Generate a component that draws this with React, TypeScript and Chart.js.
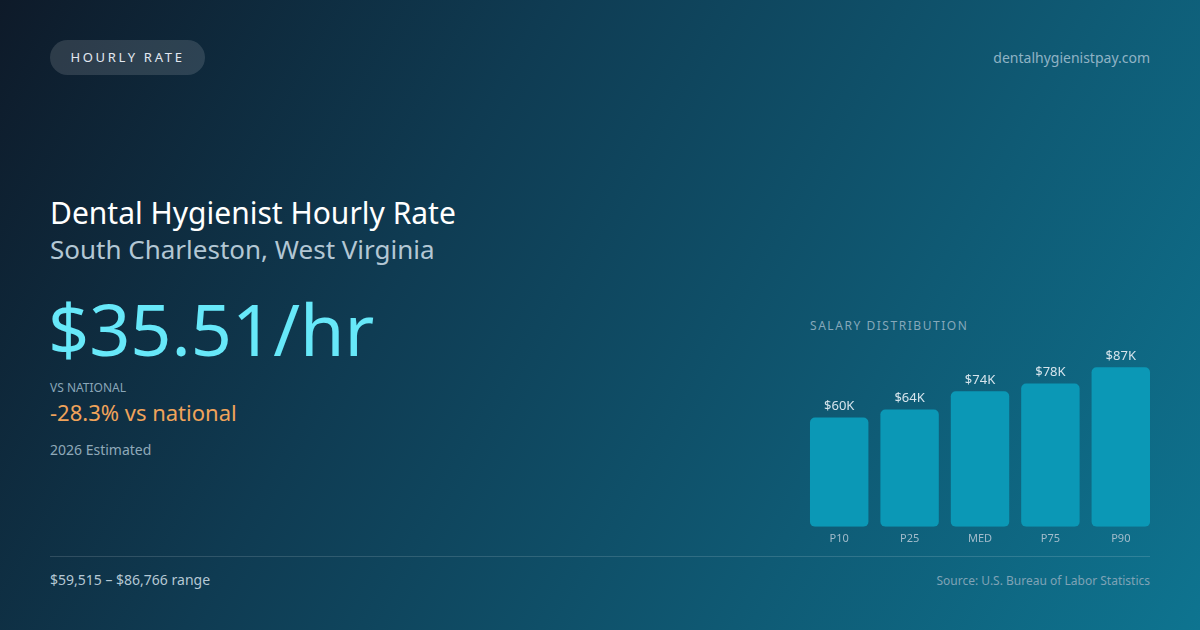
import { useEffect, useRef } from 'react';
import { Chart, registerables } from 'chart.js';

Chart.register(...registerables);

// percentile labels and annual wages (USD)
const percentiles = ['P10', 'P25', 'MED', 'P75', 'P90'];
const wages = [59515, 63800, 73700, 78000, 86766];

const FONT = '"Noto Sans", "Open Sans", sans-serif';

const valueLabels = {
    id: 'valueLabels',
    afterDatasetsDraw(chart: Chart) {
        const { ctx } = chart;
        const meta = chart.getDatasetMeta(0);
        ctx.save();
        ctx.font = `13px ${FONT}`;
        ctx.fillStyle = '#d6e4ec';
        ctx.textAlign = 'center';
        ctx.textBaseline = 'bottom';
        meta.data.forEach((bar: any, i: number) => {
            const v = wages[i];
            ctx.fillText('$' + Math.round(v / 1000) + 'K', bar.x, bar.y - 5);
        });
        ctx.restore();
    },
};

export default function App() {
    const canvasRef = useRef<HTMLCanvasElement | null>(null);
    const chartInstance = useRef<Chart | null>(null);

    useEffect(() => {
        if (canvasRef.current) {
            if (chartInstance.current) {
                chartInstance.current.destroy();
            }

            chartInstance.current = new Chart(canvasRef.current, {
                type: 'bar',
                data: {
                    labels: percentiles,
                    datasets: [
                        {
                            data: wages,
                            backgroundColor: '#0b98b6',
                            borderRadius: 5,
                            borderSkipped: false,
                            barPercentage: 0.83,
                            categoryPercentage: 1,
                        },
                    ],
                },
                options: {
                    responsive: false,
                    animation: false,
                    layout: { padding: { top: 3, left: 0, right: 0, bottom: 0 } },
                    plugins: {
                        legend: { display: false },
                        tooltip: { enabled: false },
                    },
                    scales: {
                        x: {
                            grid: { display: false, drawTicks: false },
                            border: { display: false },
                            ticks: {
                                color: '#a3bccb',
                                font: { family: FONT, size: 11 },
                                padding: 5,
                            },
                        },
                        y: {
                            display: false,
                            min: 0,
                            max: 100000,
                        },
                    },
                },
                plugins: [valueLabels],
            });
        }

        return () => {
            if (chartInstance.current) {
                chartInstance.current.destroy();
            }
        };
    }, []);

    return (
        <div
            style={{
                position: 'fixed',
                left: 0,
                top: 0,
                width: 1200,
                height: 630,
                overflow: 'hidden',
                fontFamily: FONT,
                background: 'linear-gradient(120deg, #0e1a29 0%, #0f3b52 35%, #0f5a74 70%, #0e7490 100%)',
            }}
        >
            <div
                style={{
                    position: 'absolute',
                    left: 50,
                    top: 40,
                    width: 155,
                    height: 35,
                    borderRadius: 18,
                    background: 'rgba(255,255,255,0.13)',
                    color: '#e2e8f0',
                    fontSize: 13,
                    letterSpacing: 2.7,
                    lineHeight: '35px',
                    textAlign: 'center',
                }}
            >
                HOURLY RATE
            </div>
            <div style={{ position: 'absolute', right: 50, top: 48, fontSize: 14, color: '#8fb3c5' }}>
                dentalhygienistpay.com
            </div>

            <div style={{ position: 'absolute', left: 50, top: 192, fontSize: 30, color: '#ffffff', whiteSpace: 'nowrap' }}>
                Dental Hygienist Hourly Rate
            </div>
            <div style={{ position: 'absolute', left: 50, top: 231, fontSize: 26, color: '#b3c7d4', whiteSpace: 'nowrap' }}>
                South Charleston, West Virginia
            </div>
            <div style={{ position: 'absolute', left: 48, top: 283, fontSize: 72, color: '#67e8f9', whiteSpace: 'nowrap', lineHeight: '90px' }}>
                $35.51/hr
            </div>
            <div style={{ position: 'absolute', left: 50, top: 379, fontSize: 12, color: '#8aa6b8' }}>
                VS NATIONAL
            </div>
            <div style={{ position: 'absolute', left: 50, top: 397, fontSize: 22, color: '#f0a35a', whiteSpace: 'nowrap' }}>
                -28.3% vs national
            </div>
            <div style={{ position: 'absolute', left: 50, top: 440, fontSize: 14, color: '#8fa9b9' }}>
                2026 Estimated
            </div>

            <div style={{ position: 'absolute', left: 810, top: 317, fontSize: 12, letterSpacing: 1.55, color: '#86a8ba' }}>
                SALARY DISTRIBUTION
            </div>
            <div style={{ position: 'absolute', left: 804, top: 340, width: 352, height: 210 }}>
                <canvas ref={canvasRef} width={352} height={210}></canvas>
            </div>

            <div
                style={{
                    position: 'absolute',
                    left: 50,
                    top: 556,
                    width: 1100,
                    height: 1,
                    background: 'rgba(255,255,255,0.14)',
                }}
            />
            <div style={{ position: 'absolute', left: 50, top: 570, fontSize: 14, color: '#b5c8d4', whiteSpace: 'nowrap' }}>
                $59,515 – $86,766 range
            </div>
            <div style={{ position: 'absolute', right: 50, top: 572, fontSize: 12, color: '#7fa3b6', whiteSpace: 'nowrap' }}>
                Source: U.S. Bureau of Labor Statistics
            </div>
        </div>
    );
}
